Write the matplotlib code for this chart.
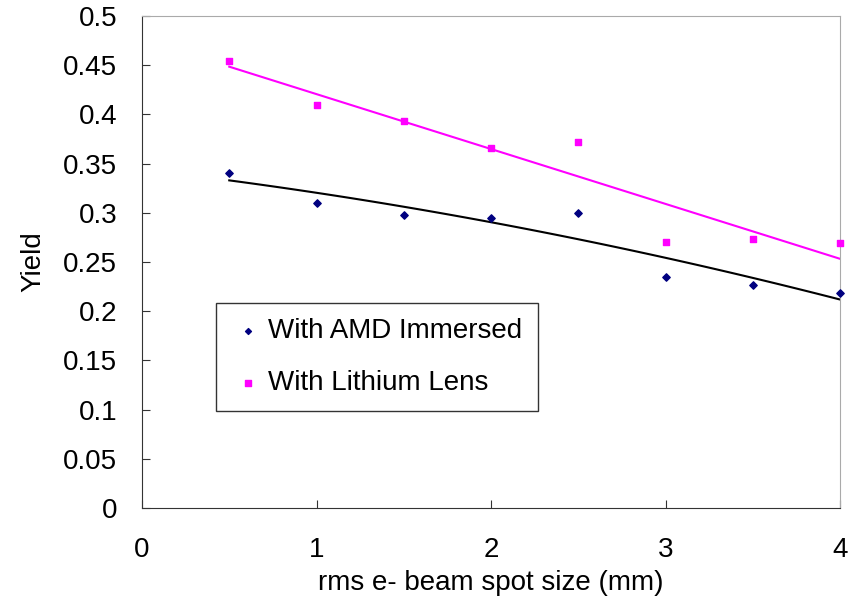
import matplotlib.pyplot as plt
import numpy as np

plt.rcParams['font.family'] = ['Liberation Sans', 'DejaVu Sans']

# Data
spot_size = [0.5, 1.0, 1.5, 2.0, 2.5, 3.0, 3.5, 4.0]
yield_amd = [0.340, 0.310, 0.298, 0.295, 0.300, 0.235, 0.227, 0.218]
yield_lithium = [0.454, 0.410, 0.393, 0.366, 0.372, 0.270, 0.273, 0.269]

x = np.array(spot_size)
fig = plt.figure(figsize=(8.56, 6.01), dpi=100)
ax = fig.add_axes([142 / 856, 93 / 601, 698 / 856, 492 / 601])

# Trendlines (Excel-style fits)
xs = np.linspace(0.5, 4.0, 100)
amd_fit = np.polyfit(x, yield_amd, 2)
li_fit = np.polyfit(x, yield_lithium, 1)
ax.plot(xs, np.polyval(amd_fit, xs), color='black', lw=1.5, zorder=2)
ax.plot(xs, np.polyval(li_fit, xs), color='#ff00ff', lw=1.5, zorder=2)

ax.scatter(x, yield_amd, marker='D', s=14, color='#000080',
           label='With AMD Immersed', zorder=3, clip_on=False)
ax.scatter(x, yield_lithium, marker='s', s=22, color='#ff00ff',
           label='With Lithium Lens', zorder=3, clip_on=False)

ax.set_xlim(0, 4)
ax.set_ylim(0, 0.5)
ax.set_xticks([0, 1, 2, 3, 4])
ax.set_yticks(np.arange(0, 0.501, 0.05))
ax.set_yticklabels(['0', '0.05', '0.1', '0.15', '0.2', '0.25', '0.3',
                    '0.35', '0.4', '0.45', '0.5'])
ax.tick_params(axis='both', direction='in', length=6, labelsize=20, color='#333333')
ax.tick_params(axis='x', pad=21)
ax.tick_params(axis='y', pad=18)

for side in ['top', 'right']:
    ax.spines[side].set_color('#aaaaaa')
for side in ['left', 'bottom']:
    ax.spines[side].set_color('#333333')

ax.set_xlabel('rms e- beam spot size (mm)', fontsize=20, labelpad=5)
ax.set_ylabel('Yield', fontsize=20, labelpad=12)

leg = ax.legend(loc='upper left', bbox_to_anchor=(74 / 698, 205 / 492),
                fontsize=20, frameon=True, fancybox=False, edgecolor='black',
                handlelength=1.2, handletextpad=0.13, borderpad=0.55,
                labelspacing=0.93, markerscale=0.8, borderaxespad=0)
leg.get_frame().set_linewidth(1.0)

plt.savefig('out.png', dpi=100)
